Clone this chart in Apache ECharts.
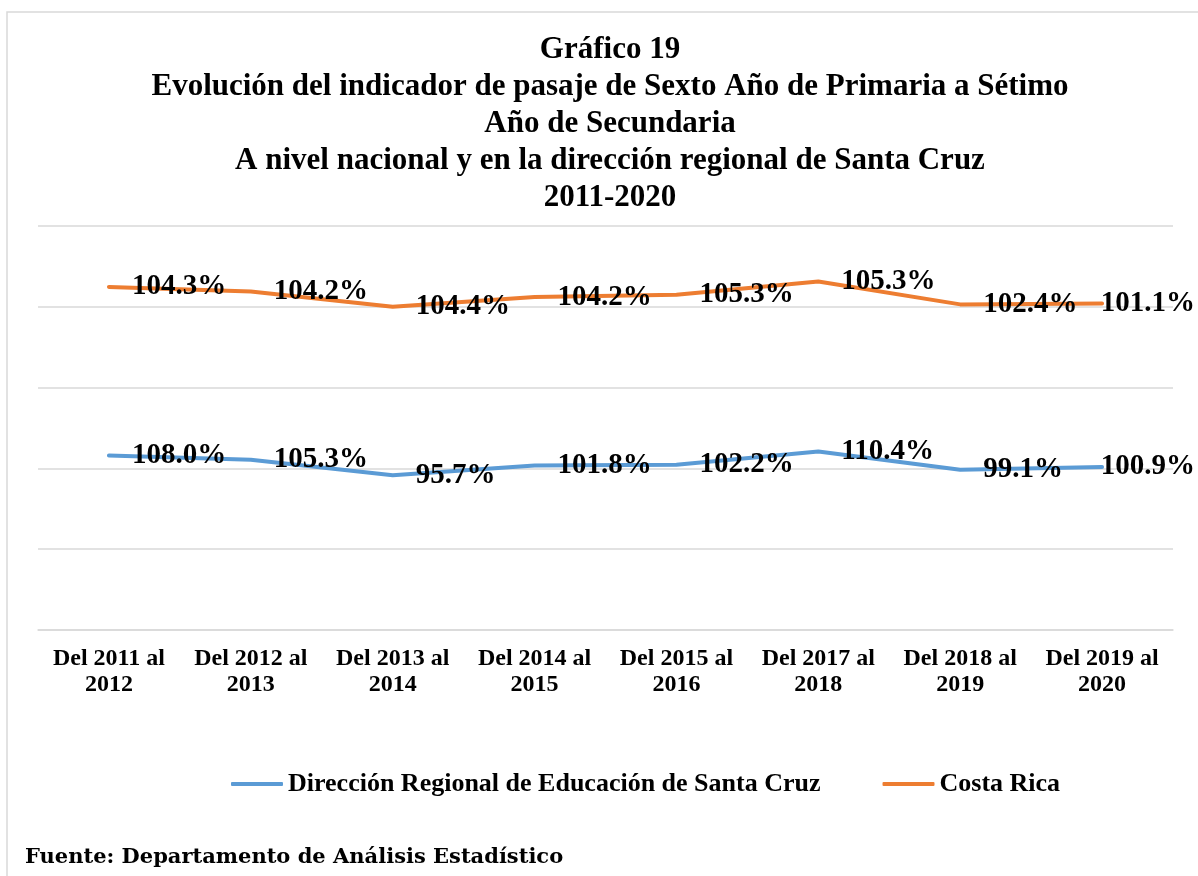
<!DOCTYPE html>
<html>
<head>
<meta charset="utf-8">
<script src="https://cdn.jsdelivr.net/npm/echarts@6/dist/echarts.min.js"></script>
<style>
  html, body { margin: 0; padding: 0; background: #fff; }
  #chart { width: 1198px; height: 876px; }
</style>
</head>
<body>
<div id="chart"></div>
<script>
const categories = [
  'Del 2011 al\n2012', 'Del 2012 al\n2013', 'Del 2013 al\n2014', 'Del 2014 al\n2015',
  'Del 2015 al\n2016', 'Del 2017 al\n2018', 'Del 2018 al\n2019', 'Del 2019 al\n2020'
]
const santaCruz = [108.0, 105.3, 95.7, 101.8, 102.2, 110.4, 99.1, 100.9]
const costaRica = [104.3, 104.2, 104.4, 104.2, 105.3, 105.3, 102.4, 101.1]
const seriesNames = ['Dirección Regional de Educación de Santa Cruz', 'Costa Rica']
const titleLines = [
  'Gráfico 19',
  'Evolución del indicador de pasaje de Sexto Año de Primaria a Sétimo',
  'Año de Secundaria',
  'A nivel nacional y en la dirección regional de Santa Cruz',
  '2011-2020'
]
const source = 'Fuente: Departamento de Análisis Estadístico'

const serif = "'Liberation Serif', 'Times New Roman', serif"
const W = 1198

const chart = echarts.init(document.getElementById('chart'), null, { renderer: 'canvas' })

function lineSeries (name, data, color) {
  return {
    name,
    type: 'line',
    stack: 'total',
    data,
    symbol: 'circle',
    symbolSize: 2,
    itemStyle: { color },
    lineStyle: { color, width: 4, cap: 'round', join: 'round' },
    label: {
      show: true,
      position: 'right',
      distance: 22,
      color: '#000',
      fontFamily: serif,
      fontWeight: 'bold',
      fontSize: 29,
      formatter: p => p.value.toFixed(1) + '%'
    },
    labelLayout: p => {
      const over = p.labelRect.x + p.labelRect.width - (W - 3)
      return over > 0 ? { dx: -over } : {}
    },
    emphasis: { disabled: true }
  }
}

chart.setOption({
  animation: false,
  title: {
    text: titleLines.join('\n'),
    left: 605,
    textAlign: 'center',
    top: 26,
    textStyle: {
      fontFamily: serif,
      fontWeight: 'bold',
      fontSize: 31,
      lineHeight: 37,
      color: '#000'
    }
  },
  graphic: [
    {
      type: 'rect',
      shape: { x: 7, y: 12, width: 1400, height: 1000 },
      style: { fill: 'none', stroke: '#d9d9d9', lineWidth: 1.5 },
      silent: true
    },
    {
      type: 'text',
      left: 25,
      top: 847,
      style: {
        text: source,
        fontFamily: "'DejaVu Serif', serif",
        fontWeight: 'bold',
        fontSize: 21,
        fill: '#000'
      }
    }
  ],
  legend: {
    left: 226,
    top: 766,
    icon: 'roundRect',
    itemWidth: 52,
    itemHeight: 4,
    itemGap: 62,
    textStyle: {
      fontFamily: serif,
      fontWeight: 'bold',
      fontSize: 26,
      color: '#000'
    },
    data: seriesNames
  },
  grid: { left: 38, right: 25, top: 226, bottom: 246, containLabel: false },
  xAxis: {
    type: 'category',
    data: categories,
    boundaryGap: true,
    axisLine: { lineStyle: { color: '#d9d9d9', width: 1.5 } },
    axisTick: { show: false },
    axisLabel: {
      margin: 16,
      interval: 0,
      color: '#000',
      fontFamily: serif,
      fontWeight: 'bold',
      fontSize: 24,
      lineHeight: 26
    }
  },
  yAxis: {
    type: 'value',
    min: 0,
    max: 250,
    interval: 50,
    axisLabel: { show: false },
    axisLine: { show: false },
    axisTick: { show: false },
    splitLine: { lineStyle: { color: '#d9d9d9', width: 1.5 } }
  },
  series: [
    lineSeries(seriesNames[0], santaCruz, '#5B9BD5'),
    lineSeries(seriesNames[1], costaRica, '#ED7D31')
  ]
})
</script>
</body>
</html>
